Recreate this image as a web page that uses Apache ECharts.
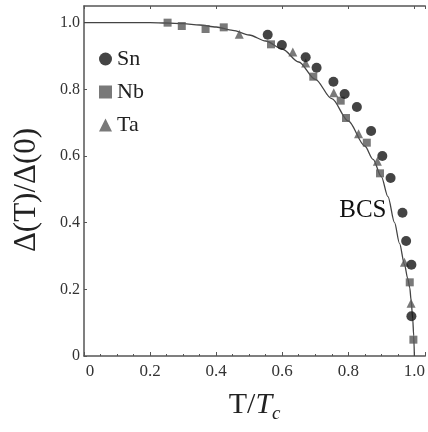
<!DOCTYPE html>
<html>
<head>
<meta charset="utf-8">
<script src="https://cdn.jsdelivr.net/npm/echarts@6/dist/echarts.min.js"></script>
<style>
  html, body { margin: 0; padding: 0; background: #fff; }
  #chart { width: 428px; height: 432px; }
</style>
</head>
<body>
<div id="chart"></div>
<script>
const snPoints = [[0.556,0.964],[0.599,0.933],[0.671,0.896],[0.704,0.865],[0.755,0.823],[0.789,0.786],[0.826,0.747],[0.869,0.675],[0.903,0.600],[0.928,0.534],[0.964,0.430],[0.975,0.345],[0.991,0.274],[0.991,0.119]];
const nbPoints = [[0.253,1.0],[0.296,0.990],[0.368,0.981],[0.423,0.986],[0.566,0.935],[0.694,0.838],[0.777,0.766],[0.793,0.714],[0.856,0.640],[0.896,0.548],[0.986,0.221],[0.997,0.049]];
const taPoints = [[0.470,0.965],[0.632,0.912],[0.671,0.879],[0.756,0.790],[0.831,0.667],[0.888,0.584],[0.970,0.281],[0.990,0.158]];

// BCS curve as drawn in the figure
const bcsT = [0, 0.2, 0.25, 0.3, 0.35, 0.4, 0.45, 0.5, 0.55, 0.6, 0.65, 0.7, 0.75, 0.8, 0.85, 0.875, 0.9, 0.92, 0.94, 0.955, 0.97, 0.98, 0.986, 0.99, 0.995, 0.998, 1.0];
const bcsD = [1, 1, 0.999, 0.997, 0.993, 0.987, 0.977, 0.963, 0.945, 0.921, 0.882, 0.830, 0.772, 0.705, 0.630, 0.590, 0.538, 0.478, 0.400, 0.338, 0.275, 0.232, 0.205, 0.168, 0.112, 0.06, 0];

const xTicks = [0, 0.2, 0.4, 0.6, 0.8, 1.0];
const yTicks = [0, 0.2, 0.4, 0.6, 0.8, 1.0];

const serif = '"Liberation Serif", "DejaVu Serif", serif';
const axisCol = '#555';

const chart = echarts.init(document.getElementById('chart'));

const isTick = (ticks, v) => ticks.some(t => Math.abs(t - v) < 1e-6);

chart.setOption({
  animation: false,
  grid: { left: 84, right: 0, top: 6, bottom: 76 },
  legend: {
    orient: 'vertical',
    left: 94,
    top: 43,
    itemWidth: 13,
    itemHeight: 13,
    itemGap: 11,
    textStyle: { fontFamily: serif, fontSize: 22, color: '#222' },
    data: [
      { name: 'Sn', icon: 'circle' },
      { name: 'Nb', icon: 'rect' },
      { name: 'Ta', icon: 'triangle' }
    ]
  },
  xAxis: [
    {
      type: 'value', min: 0, max: 1.033, interval: 0.2,
      name: '{a|T/}{b|T}{c|c}',
      nameLocation: 'middle',
      nameGap: 32,
      nameTextStyle: {
        rich: {
          a: { fontFamily: serif, fontSize: 30, color: '#222' },
          b: { fontFamily: serif, fontSize: 30, fontStyle: 'italic', color: '#222' },
          c: { fontFamily: serif, fontSize: 19, fontStyle: 'italic', color: '#222', padding: [16, 0, 0, 0] }
        }
      },
      axisLine: { lineStyle: { color: axisCol, width: 1.5 } },
      axisTick: { inside: true, length: 4, lineStyle: { color: axisCol } },
      minorTick: { show: true, splitNumber: 4, length: 2, lineStyle: { color: axisCol } },
      splitLine: { show: false },
      axisLabel: {
        fontFamily: serif, fontSize: 17, color: '#333', margin: 7,
        showMaxLabel: false,
        formatter: v => {
          if (!isTick(xTicks, v)) return '';
          return v === 0 ? '{z|0}' : v.toFixed(1);
        },
        rich: { z: { fontFamily: serif, fontSize: 17, color: '#333', padding: [0, 0, 0, 12] } }
      }
    },
    {
      type: 'value', min: 0, max: 1.033, interval: 0.2, position: 'top',
      axisLine: { lineStyle: { color: axisCol, width: 1.5 } },
      axisTick: { inside: true, length: 3, lineStyle: { color: axisCol } },
      axisLabel: { show: false },
      splitLine: { show: false }
    }
  ],
  yAxis: {
    type: 'value', min: 0, max: 1.05, interval: 0.2,
    name: 'Δ(T)/Δ(0)',
    nameLocation: 'middle',
    nameGap: 42,
    nameTextStyle: { fontFamily: serif, fontSize: 31, color: '#222', padding: [0, 18, 0, 0] },
    axisLine: { show: true, lineStyle: { color: axisCol, width: 1.5 } },
    axisTick: { show: true, inside: true, length: 3, lineStyle: { color: axisCol } },
    splitLine: { show: false },
    axisLabel: {
      fontFamily: serif, fontSize: 16, color: '#333', margin: 4,
      showMaxLabel: false,
      formatter: v => (isTick(yTicks, v) ? (v === 0 ? '0' : v.toFixed(1)) : '')
    }
  },
  series: [
    {
      name: 'BCS',
      type: 'line',
      data: bcsT.map((t, i) => [t, bcsD[i]]),
      smooth: 0.3,
      smoothMonotone: 'x',
      symbol: 'none',
      lineStyle: { color: '#444', width: 1.3 },
      z: 1,
      markPoint: {
        symbol: 'circle', symbolSize: 0,
        label: { show: true, formatter: 'BCS', fontFamily: serif, fontSize: 25, color: '#111' },
        data: [{ coord: [0.844, 0.438] }]
      }
    },
    {
      name: 'Sn', type: 'scatter', data: snPoints,
      symbol: 'circle', symbolSize: 10,
      itemStyle: { color: '#151515' }, z: 3
    },
    {
      name: 'Nb', type: 'scatter', data: nbPoints,
      symbol: 'rect', symbolSize: 8,
      itemStyle: { color: '#585858' }, z: 2
    },
    {
      name: 'Ta', type: 'scatter', data: taPoints,
      symbol: 'triangle', symbolSize: 9,
      itemStyle: { color: '#585858' }, z: 2
    }
  ]
});
</script>
</body>
</html>
